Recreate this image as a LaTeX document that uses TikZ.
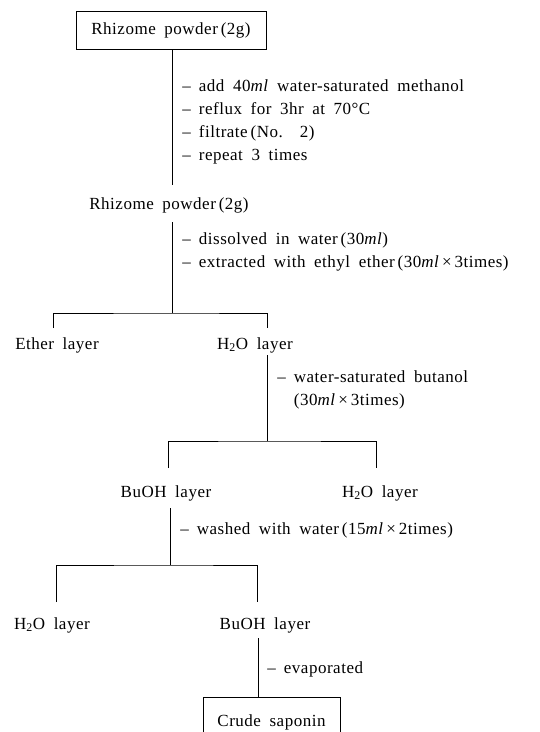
\documentclass[tikz,border=0pt]{standalone}
\usepackage{fontspec}
\setmainfont{Liberation Serif}[WordSpace=1.8, LetterSpace=3]
\usetikzlibrary{positioning}
\newcommand{\dsh}{–\hspace{8pt}}

\begin{document}
\begin{tikzpicture}[x=1pt, y=-1pt, line width=0.8pt,
    box/.style={rectangle, draw, line width=1pt, inner sep=0pt, font=\fontsize{17}{23}\selectfont},
    layer/.style={inner sep=0pt, font=\fontsize{17}{23}\selectfont},
    note/.style={anchor=north west, align=left, inner sep=0pt, font=\fontsize{17}{23}\selectfont},
  ]
  \useasboundingbox (0,0) rectangle (540,732);
  \clip (0,0) rectangle (540,732);

  % starting material
  \node[box, minimum width=190, minimum height=38] (powder) at (171,30) {Rhizome powder\,(2g)};
  \coordinate (s1) at (172,185);
  \draw (powder.south -| s1) -- (s1);
  \node[note] (extract) at (182,79) {\dsh add 40\textit{ml} water-saturated methanol\\
    \dsh reflux for 3hr at 70\textdegree C\\
    \dsh filtrate\,(No.\ \ 2)\\
    \dsh repeat 3 times};

  % methanol extract
  \node[layer] (rhizome) at (169,205) {Rhizome powder\,(2g)};
  \coordinate (s2) at (172,222);
  \coordinate (j1) at (172,313);
  \draw (s2) -- (j1);
  \node[note] (ether) at (182,232) {\dsh dissolved in water\,(30\textit{ml})\\
    \dsh extracted with ethyl ether\,(30\textit{ml}\,×\,3times)};

  \node[layer] (etherlayer) at (57,345) {Ether layer};
  \node[layer] (water1) at (255,345) {H\textsubscript{2}O layer};
  \coordinate (e1) at (53,328);
  \coordinate (w1) at (267,328);
  \draw (e1) |- (j1) -| (w1);

  % butanol partition
  \coordinate (s3) at (267,355);
  \coordinate (j2) at (267,441);
  \draw (s3) -- (j2);
  \node[note] (butanol) at (277,370) {\dsh water-saturated butanol\\
    \phantom{\dsh}(30\textit{ml}\,×\,3times)};

  \node[layer] (buoh1) at (166,493) {BuOH layer};
  \node[layer] (water2) at (380,493) {H\textsubscript{2}O layer};
  \coordinate (b1) at (168,468);
  \coordinate (w2) at (376,468);
  \draw (b1) |- (j2) -| (w2);

  % washing
  \coordinate (s4) at (170,508);
  \coordinate (j3) at (170,565);
  \draw (s4) -- (j3);
  \node[note] (wash) at (180,522) {\dsh washed with water\,(15\textit{ml}\,×\,2times)};

  \node[layer] (water3) at (52,625) {H\textsubscript{2}O layer};
  \node[layer] (buoh2) at (265,625) {BuOH layer};
  \coordinate (w3) at (56,602);
  \coordinate (b2) at (257,602);
  \draw (w3) |- (j3) -| (b2);

  % evaporation
  \coordinate (s5) at (258,638);
  \node[box, minimum width=137, minimum height=50, anchor=north] (saponin) at (271.5,697) {Crude saponin};
  \draw (s5) -- (saponin.north -| s5);
  \node[note] (evap) at (267,661) {\dsh evaporated};
\end{tikzpicture}
\end{document}
